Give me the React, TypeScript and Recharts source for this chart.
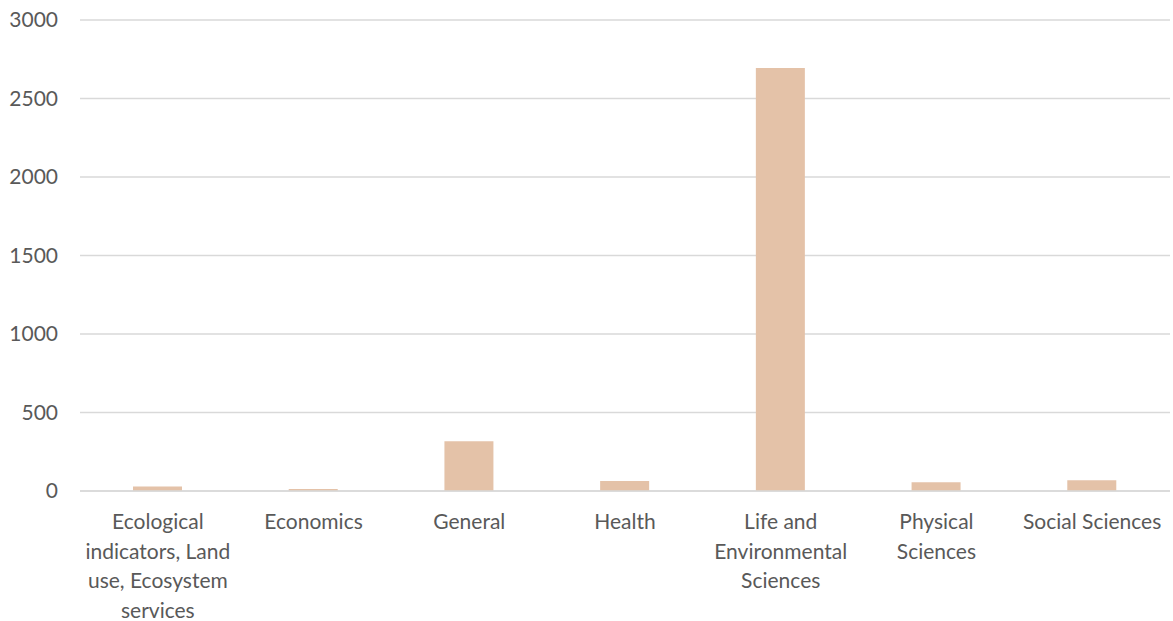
import React from "react";
import { BarChart, Bar, XAxis, YAxis, CartesianGrid } from "recharts";

const categories = [
  "Ecological indicators, Land use, Ecosystem services",
  "Economics",
  "General",
  "Health",
  "Life and Environmental Sciences",
  "Physical Sciences",
  "Social Sciences",
];
const counts = [28, 12, 317, 64, 2695, 56, 68];
const tickLines = [
  ["Ecological", "indicators, Land", "use, Ecosystem", "services"],
  ["Economics"],
  ["General"],
  ["Health"],
  ["Life and", "Environmental", "Sciences"],
  ["Physical", "Sciences"],
  ["Social Sciences"],
];
const yTicks = [0, 500, 1000, 1500, 2000, 2500, 3000];

const data = categories.map((name, i) => ({ name, value: counts[i] }));

const textColor = "#595959";
const gridColor = "#D9D9D9";
const font = "Lato, 'Open Sans', sans-serif";

function CategoryTick(props: any) {
  const { x, y, index } = props;
  const lines = tickLines[index] || [];
  return (
    <g transform={`translate(${x},${y})`}>
      <text textAnchor="middle" fill={textColor} fontSize={21} fontFamily={font}>
        {lines.map((l, i) => (
          <tspan key={i} x={0} dy={i === 0 ? 32 : 29.5}>
            {l}
          </tspan>
        ))}
      </text>
    </g>
  );
}

export default function App() {
  return (
    <div style={{ position: "absolute", left: 0, top: 0, background: "#fff" }}>
      <BarChart
        width={1173}
        height={621}
        data={data}
        margin={{ top: 20, right: 3, left: 0, bottom: 0 }}
      >
        <CartesianGrid vertical={false} stroke={gridColor} strokeWidth={1.5} />
        <XAxis
          dataKey="name"
          interval={0}
          tickLine={false}
          axisLine={{ stroke: gridColor, strokeWidth: 1.5 }}
          height={130}
          tickMargin={0}
          tick={<CategoryTick />}
        />
        <YAxis
          width={80}
          domain={[0, 3000]}
          ticks={yTicks}
          tickLine={false}
          axisLine={false}
          tickSize={0}
          tickMargin={22}
          tick={{ fill: textColor, fontSize: 21, fontFamily: font }}
        />
        <Bar dataKey="value" fill="#E4C2A8" barSize={49} isAnimationActive={false} />
      </BarChart>
    </div>
  );
}
